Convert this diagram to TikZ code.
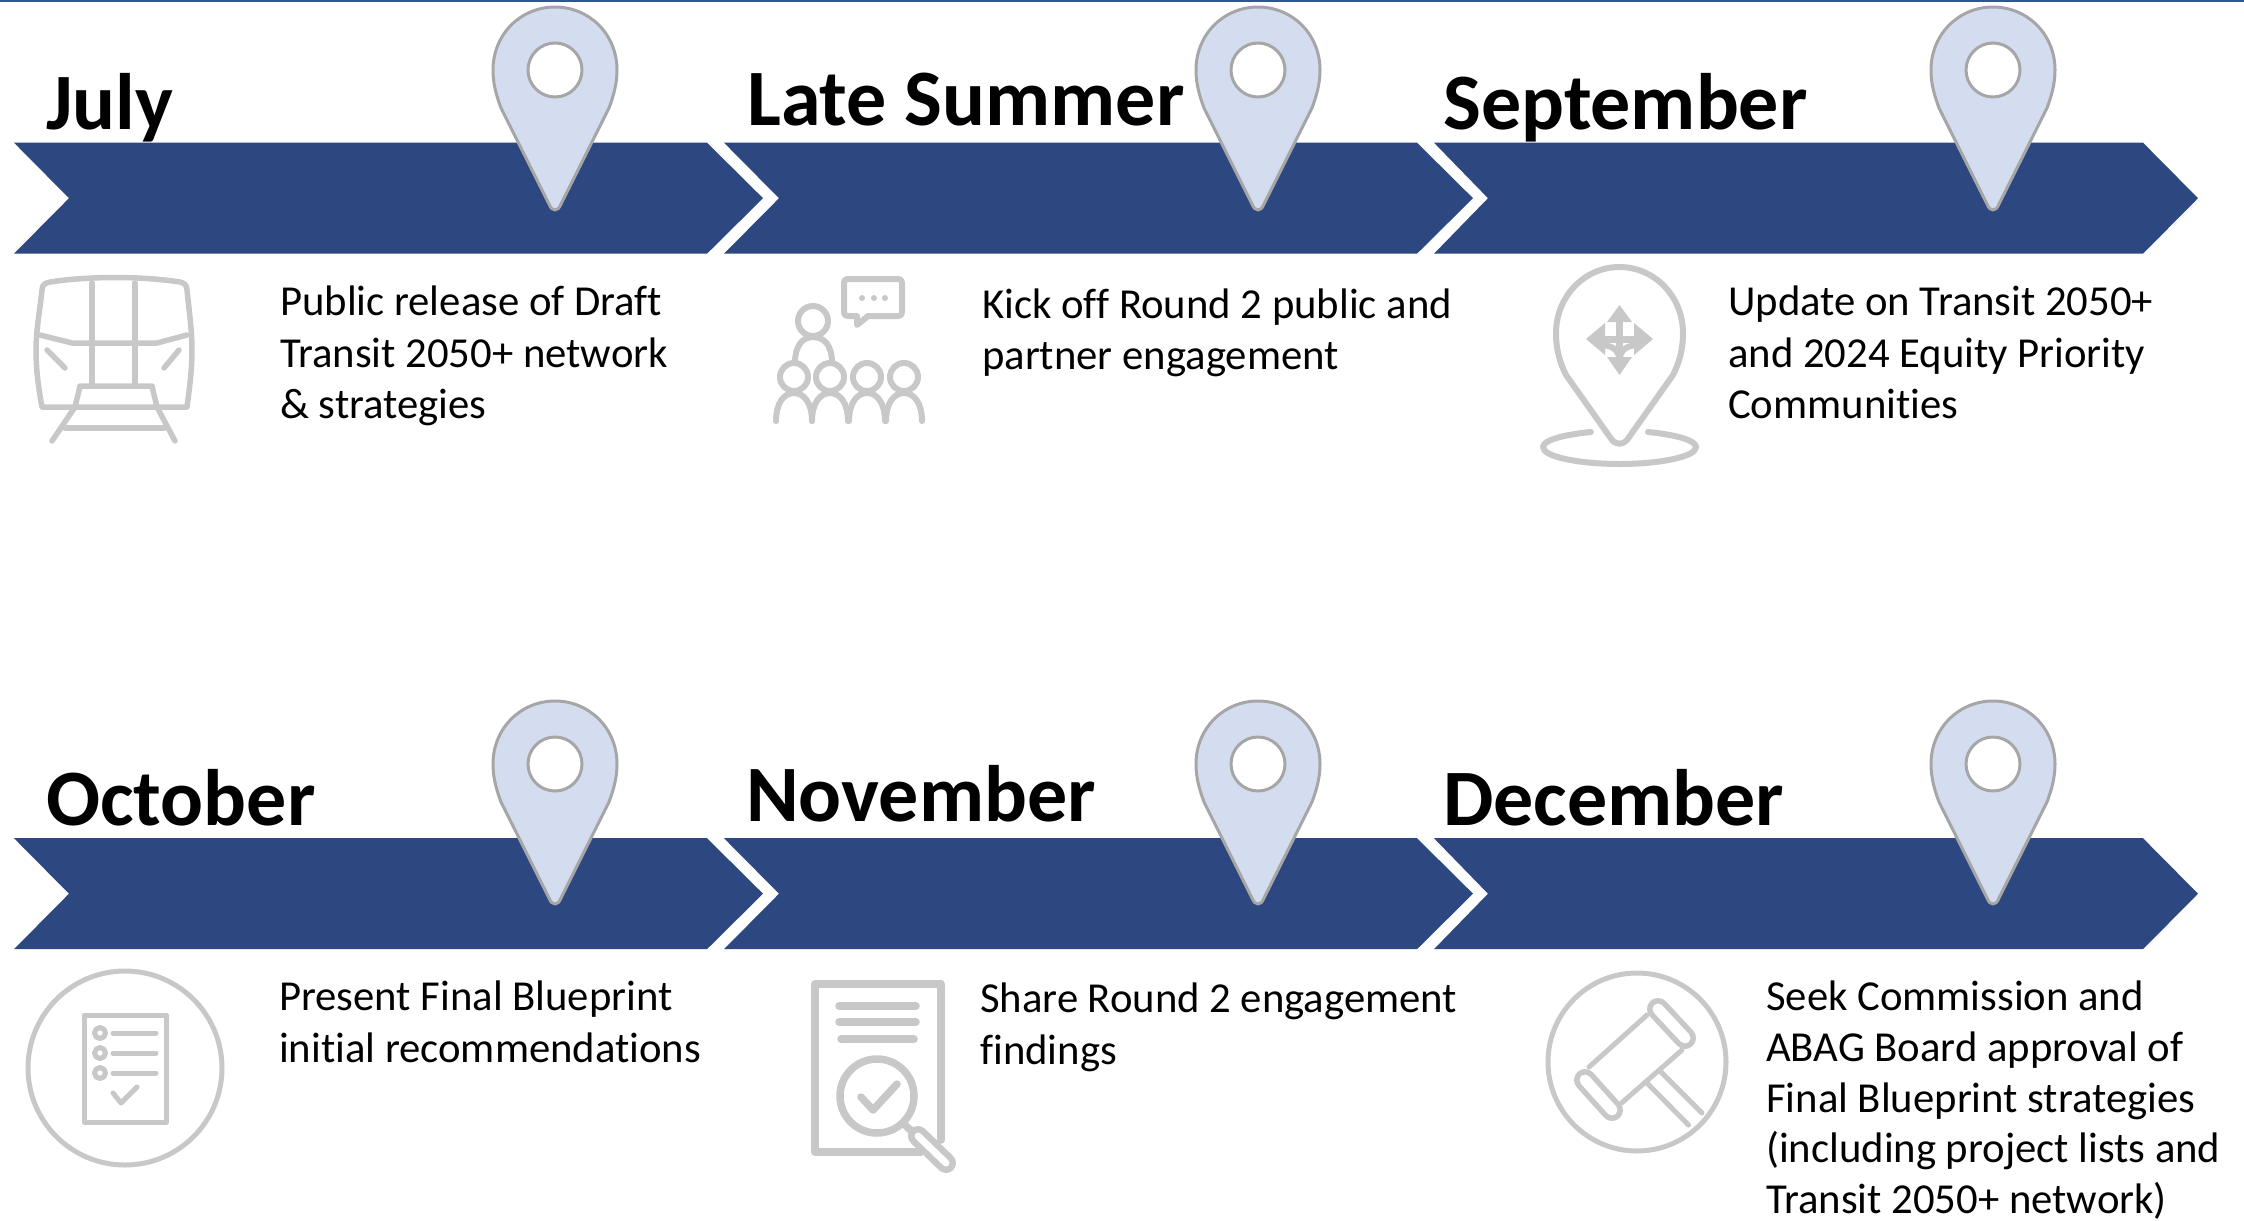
\documentclass[tikz,border=0pt]{standalone}
\usepackage{fontspec}
\setmainfont[Ligatures=NoCommon]{Carlito}
\definecolor{chev}{HTML}{2D4880}
\definecolor{pinfill}{HTML}{D4DDF0}
\definecolor{pinline}{HTML}{A6A6A6}
\definecolor{icongray}{HTML}{C8C8C8}
\definecolor{topline}{HTML}{2F5597}
\tikzset{
  x=1pt,y=-1pt,
  chevron/.style={fill=chev,draw=none},
  monthlabel/.style={anchor=base west,inner sep=0pt,font=\bfseries\fontsize{80}{88}\selectfont},
  desc/.style={anchor=north west,inner sep=0pt,align=left,font=\fontsize{42.7}{51.5}\selectfont},
  desctight/.style={desc,font=\fontsize{42.7}{50.6}\selectfont},
  icon/.style={draw=icongray,line width=5pt,line cap=round,line join=round},
  mappin/.pic={
    \path[fill=pinfill,draw=pinline,line width=3pt,line join=round]
      (0,7) .. controls (-34,7) and (-62,34) .. (-62,70)
      .. controls (-62,85) and (-58,97) .. (-54,108)
      -- (-6,204) .. controls (-3,212) and (3,212) .. (6,204)
      -- (54,108) .. controls (58,97) and (62,85) .. (62,70)
      .. controls (62,34) and (34,7) .. (0,7) -- cycle;
    \path[fill=white,draw=pinline,line width=3pt] (0,70) circle (27pt);
  }
}
\begin{document}
\begin{tikzpicture}
\useasboundingbox (0,0) rectangle (2244,1221);
\fill[white] (0,0) rectangle (2244,1221);
\fill[topline] (0,0) rectangle (2244,1.5);
% month labels
\node[monthlabel] (july) at (46,129.5) {July};
\node[monthlabel] (late) at (747,125) {Late Summer};
\node[monthlabel] (sept) at (1443,129.5) {September};
\node[monthlabel] (oct) at (46,825.5) {October};
\node[monthlabel] (nov) at (746,821) {November};
\node[monthlabel] (dec) at (1443,825.5) {December};
% chevrons
\foreach \dy in {0,695.5}{
  \begin{scope}[yshift=-\dy pt]
  \path[chevron] (14,142.7) -- (707,142.7) -- (763,198.2) -- (707,253.7) -- (14,253.7) -- (69,198.2) -- cycle;
  \path[chevron] (724,142.7) -- (1417,142.7) -- (1473,198.2) -- (1417,253.7) -- (724,253.7) -- (779,198.2) -- cycle;
  \path[chevron] (1434,142.7) -- (2143,142.7) -- (2198,198.2) -- (2143,253.7) -- (1434,253.7) -- (1488,198.2) -- cycle;
  \end{scope}
}
% pins
\pic at (555,0) {mappin};
\pic at (1258,0) {mappin};
\pic at (1993,0) {mappin};
\pic at (555,694) {mappin};
\pic at (1258,694) {mappin};
\pic at (1993,694) {mappin};
% descriptions
\node[desc] (d1) at (280,286) {Public release of Draft\\Transit 2050+ network\\\& strategies};
\node[desc] (d2) at (982,288.5) {Kick off Round 2 public and\\partner engagement};
\node[desc] (d3) at (1728,286) {Update on Transit 2050+\\and 2024 Equity Priority\\Communities};
\node[desc] (d4) at (279,981) {Present Final Blueprint\\initial recommendations};
\node[desc] (d5) at (980,983) {Share Round 2 engagement\\findings};
\node[desctight] (d6) at (1766,981) {Seek Commission and\\ABAG Board approval of\\Final Blueprint strategies\\(including project lists and\\Transit 2050+ network)};
% train icon
\begin{scope}[icon/.append style={line width=5.5pt}]
\draw[icon] (42,407) .. controls (38,385) and (36,368) .. (36,350) .. controls (36,330) and (40,310) .. (42,290)
  .. controls (42,284) and (46,283) .. (50,282) .. controls (90,276) and (140,276) .. (180,282)
  .. controls (184,283) and (187,285) .. (187,290) .. controls (189,310) and (192,330) .. (192,350)
  .. controls (192,368) and (190,385) .. (187,407) -- cycle;
\draw[icon] (40,335) -- (72,343) -- (157,343) -- (187,335);
\draw[icon] (92,283) -- (92,386);
\draw[icon] (135,283) -- (135,386);
\draw[icon] (75,407) -- (80,386) -- (152,386) -- (157,407);
\draw[icon] (75,407) -- (52,441);
\draw[icon] (157,407) -- (175,441);
\draw[icon] (65,428) -- (164,428);
\draw[icon] (47,350) -- (65,368);
\draw[icon] (179,350) -- (164,368);
\end{scope}
% people icon
\begin{scope}[icon/.append style={line width=6pt}]
\draw[icon] (848,279) -- (898,279) .. controls (901,279) and (902,280) .. (902,283) -- (902,312) .. controls (902,315) and (901,316) .. (898,316)
  -- (868,316) -- (857,325) -- (857,316) -- (848,316) .. controls (845,316) and (844,315) .. (844,312) -- (844,283) .. controls (844,280) and (845,279) .. (848,279) -- cycle;
\fill[icongray] (862,298) circle (3pt) (874,298) circle (3pt) (885,298) circle (3pt);
\draw[icon] (813,321) circle (15pt);
\draw[icon] (795,363) .. controls (795,345) and (803,337) .. (813,337) .. controls (824,337) and (832,345) .. (832,363);
\foreach \hx in {794,830,867,904}{
  \draw[icon] (\hx,377) circle (14pt);
  \draw[icon] (\hx-18,421) .. controls (\hx-18,403) and (\hx-10,393) .. (\hx,393) .. controls (\hx+10,393) and (\hx+18,403) .. (\hx+18,421);
}
\end{scope}
% location icon
\begin{scope}[icon/.append style={line width=6pt}]
\draw[icon] (1619.5,267) .. controls (1584,267) and (1556,297) .. (1556,333) .. controls (1556,350) and (1560,363) .. (1566,375)
  -- (1612,440) .. controls (1617,445) and (1622,445) .. (1627,440)
  -- (1673,375) .. controls (1679,363) and (1683,350) .. (1683,333) .. controls (1683,297) and (1655,267) .. (1619.5,267) -- cycle;
\draw[icon] (1591,432) .. controls (1560,435) and (1543,441) .. (1543,447) .. controls (1543,457) and (1580,464) .. (1619.5,464)
  .. controls (1659,464) and (1696,457) .. (1696,447) .. controls (1696,441) and (1679,435) .. (1648,432);
\fill[icongray] (1619.5,305) -- (1632,322) -- (1607,322) -- cycle
  (1619.5,375) -- (1632,357) -- (1607,357) -- cycle
  (1586,339) -- (1605,323) -- (1605,355) -- cycle
  (1653,339) -- (1634,323) -- (1634,355) -- cycle;
\draw[icon,line width=7pt] (1619.5,315) -- (1619.5,365);
\draw[icon,line width=7pt] (1600,339) -- (1639,339);
\draw[icon] (1600,345) .. controls (1612,345) and (1619,350) .. (1619.5,360);
\draw[icon] (1639,345) .. controls (1627,345) and (1620,350) .. (1619.5,360);
\end{scope}
% checklist icon
\draw[icon] (125,1068) circle (97pt);
\draw[icon] (84,1015) rectangle (166,1122);
\foreach \ly in {1033,1053,1073}{
  \draw[icon] (100,\ly) circle (5.5pt);
  \draw[icon] (113,\ly) -- (156,\ly);
}
\draw[icon] (113,1093) -- (121,1103) -- (137,1087);
% report icon
\begin{scope}[icon/.append style={line width=7.5pt}]
\draw[icon] (941,1140) -- (941,984) -- (815,984) -- (815,1152) -- (921,1152);
\draw[icon] (839,1006) -- (916,1006);
\draw[icon] (839,1022) -- (916,1022);
\draw[icon] (841,1039) -- (914,1039);
\draw[icon] (877,1096) circle (37pt);
\draw[icon] (861,1097) -- (873,1110) -- (897,1084);
\draw[icon] (905,1125) -- (915,1134);
\draw[icon,line width=20pt] (918,1136) -- (946,1163);
\draw[draw=white,line width=7pt,line cap=round] (918,1136) -- (946,1163);
\end{scope}
% gavel icon
\draw[icon] (1637,1062) circle (89pt);
\draw[icon] (1647,1015) -- (1589,1067);
\draw[icon] (1682,1050) -- (1621.5,1103);
\draw[icon] (1661,1072) -- (1702,1113);
\draw[icon] (1647,1083) -- (1688.5,1125);
\draw[icon,line width=22pt] (1658,1009) -- (1685,1038);
\draw[draw=white,line width=11pt,line cap=round] (1658,1009) -- (1685,1038);
\draw[icon,line width=22pt] (1585,1080) -- (1612,1110);
\draw[draw=white,line width=11pt,line cap=round] (1585,1080) -- (1612,1110);
\end{tikzpicture}
\end{document}
